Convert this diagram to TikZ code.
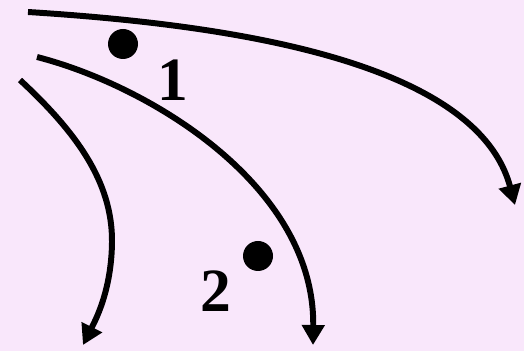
\documentclass[tikz,border=0pt]{standalone}
\usepackage{fontspec}
\setmainfont{Liberation Serif}
\usepackage{tikz}
\usetikzlibrary{arrows.meta, positioning}
\definecolor{paper}{RGB}{249,231,251}

\begin{document}
\begin{tikzpicture}[
  flow/.style={line width=3.4pt, -{Triangle[length=4mm, width=4.4mm]}},
  ball/.style={circle, fill=black, inner sep=0pt, minimum size=6mm},
  num/.style={font=\fontsize{35}{35}\selectfont\bfseries, inner sep=0pt}]
  \fill[paper] (0,0) rectangle (10.48,7.02);
  % stream ends
  \coordinate (a0) at (0.56,6.78);
  \coordinate (a1) at (10.30,2.92);
  \coordinate (b0) at (0.74,5.88);
  \coordinate (b1) at (6.26,0.12);
  \coordinate (c0) at (0.40,5.42);
  \coordinate (cm) at (2.24,2.18);
  \coordinate (c1) at (1.66,0.12);
  \draw[flow] (a0) .. controls (4.2,6.55) and (9.5,5.9) .. (a1);
  \draw[flow] (b0) .. controls (3.0,5.3) and (6.3,3.3) .. (b1);
  \draw[flow] (c0) .. controls (1.5,4.4) and (2.25,3.4) .. (cm)
    .. controls (2.23,1.2) and (1.9,0.6) .. (c1);
  % particles
  \node[ball] (p1) at (2.46,6.14) {};
  \node[ball] (p2) at (5.16,1.90) {};
  \node[num] (n1) at (3.46,5.42) {1};
  \node[num] (n2) at (4.32,1.20) {2};
\end{tikzpicture}
\end{document}
